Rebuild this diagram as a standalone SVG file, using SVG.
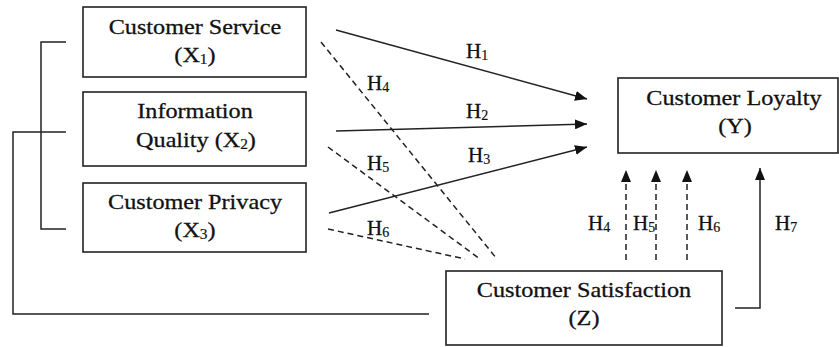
<svg xmlns="http://www.w3.org/2000/svg" width="839" height="347" viewBox="0 0 839 347">
  <style>
    .box { fill: #ffffff; stroke: #222222; stroke-width: 1.6; }
    .lbl { font-family: "Liberation Serif", "Times New Roman", serif; font-size: 22px; fill: #111111; stroke: #111111; stroke-width: 0.3; text-anchor: middle; }
    .h { font-family: "Liberation Serif", "Times New Roman", serif; font-size: 21px; fill: #111111; stroke: #111111; stroke-width: 0.3; }
    .sub { font-size: 14px; stroke-width: 0.2; }
    .line { fill: none; stroke: #222222; stroke-width: 1.5; }
    .dash { fill: none; stroke: #222222; stroke-width: 1.5; stroke-dasharray: 6 4; }
  </style>
  <defs>
    <marker id="arrow" viewBox="0 0 12 10" refX="12" refY="5" markerWidth="12" markerHeight="10" markerUnits="userSpaceOnUse" orient="auto">
      <path d="M0,0 L12,5 L0,10 Z" fill="#111111"/>
    </marker>
  </defs>
  <rect width="839" height="347" fill="#ffffff"/>

  <!-- connectors -->
  <g id="connectors">
    <!-- bracket grouping X1..X3 -->
    <polyline class="line" points="66,42 41,42 41,229 66,229"/>
    <polyline class="line" points="66,132 13,132 13,314 429,314"/>
    <!-- direct effects on Y -->
    <line class="line" x1="336" y1="30" x2="587" y2="99" marker-end="url(#arrow)"/>
    <line class="line" x1="336" y1="131" x2="587" y2="124" marker-end="url(#arrow)"/>
    <line class="line" x1="329" y1="213" x2="587" y2="147" marker-end="url(#arrow)"/>
    <!-- paths into Z -->
    <line class="dash" x1="321" y1="42" x2="497" y2="259"/>
    <line class="dash" x1="328" y1="147" x2="480" y2="259"/>
    <line class="dash" x1="328" y1="229" x2="465" y2="259"/>
    <!-- mediated paths Z to Y -->
    <line class="dash" x1="626" y1="260" x2="626" y2="170" marker-end="url(#arrow)"/>
    <line class="dash" x1="656" y1="260" x2="656" y2="170" marker-end="url(#arrow)"/>
    <line class="dash" x1="687" y1="260" x2="687" y2="170" marker-end="url(#arrow)"/>
    <polyline class="line" points="735,308 760,308 760,168" marker-end="url(#arrow)"/>

    <!-- hypothesis labels -->
    <text class="h" x="466" y="58">H<tspan class="sub" dy="2">1</tspan></text>
    <text class="h" x="466" y="118">H<tspan class="sub" dy="2">2</tspan></text>
    <text class="h" x="468" y="162">H<tspan class="sub" dy="2">3</tspan></text>
    <text class="h" x="367" y="90">H<tspan class="sub" dy="2">4</tspan></text>
    <text class="h" x="367" y="170">H<tspan class="sub" dy="2">5</tspan></text>
    <text class="h" x="367" y="235">H<tspan class="sub" dy="2">6</tspan></text>
    <text class="h" x="588" y="230">H<tspan class="sub" dy="2">4</tspan></text>
    <text class="h" x="633" y="230">H<tspan class="sub" dy="2">5</tspan></text>
    <text class="h" x="698" y="230">H<tspan class="sub" dy="2">6</tspan></text>
    <text class="h" x="775" y="230">H<tspan class="sub" dy="2">7</tspan></text>
  </g>

  <g id="customer-service">
    <rect class="box" x="83" y="7" width="223" height="70"/>
    <text class="lbl" transform="translate(195,34) scale(1.1,1)">Customer Service</text>
    <text class="lbl" transform="translate(195,62) scale(1.1,1)">(X<tspan class="sub" dy="2">1</tspan><tspan dy="-2">)</tspan></text>
  </g>

  <g id="information-quality">
    <rect class="box" x="83" y="92" width="223" height="74"/>
    <text class="lbl" transform="translate(195,118) scale(1.1,1)">Information</text>
    <text class="lbl" transform="translate(196,147) scale(1.1,1)">Quality (X<tspan class="sub" dy="2">2</tspan><tspan dy="-2">)</tspan></text>
  </g>

  <g id="customer-privacy">
    <rect class="box" x="83" y="183" width="223" height="69"/>
    <text class="lbl" transform="translate(195,209) scale(1.1,1)">Customer Privacy</text>
    <text class="lbl" transform="translate(195,237) scale(1.1,1)">(X<tspan class="sub" dy="2">3</tspan><tspan dy="-2">)</tspan></text>
  </g>

  <g id="customer-loyalty">
    <rect class="box" x="618" y="78" width="220" height="75"/>
    <text class="lbl" transform="translate(734,105) scale(1.1,1)">Customer Loyalty</text>
    <text class="lbl" transform="translate(735,133) scale(1.1,1)">(Y)</text>
  </g>

  <g id="customer-satisfaction">
    <rect class="box" x="446" y="271" width="276" height="74"/>
    <text class="lbl" transform="translate(584,297) scale(1.1,1)">Customer Satisfaction</text>
    <text class="lbl" transform="translate(584,325) scale(1.1,1)">(Z)</text>
  </g>
</svg>
